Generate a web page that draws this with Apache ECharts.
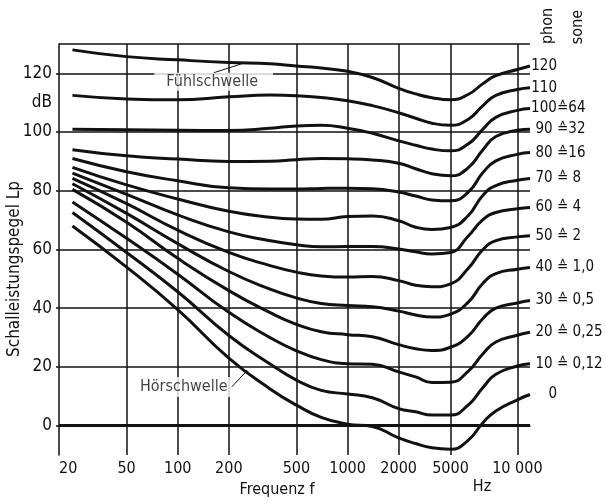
<!DOCTYPE html>
<html>
<head>
<meta charset="utf-8">
<script src="https://cdn.jsdelivr.net/npm/echarts@6/dist/echarts.min.js"></script>
<style>
  html, body { margin: 0; padding: 0; background: #fff; }
  #main { width: 605px; height: 502px; }
</style>
</head>
<body>
<div id="main"></div>
<script>
// Kurven gleicher Lautstärke (Schalleistungspegel über Frequenz)
const FONT = '"DejaVu Sans Condensed", "Liberation Sans Narrow", sans-serif';
const INK = '#111';

// x-Achse: Frequenz in Hz
const tickHz = [20, 50, 100, 200, 500, 1000, 2000, 5000, 10000];
const tickLabels = ['20', '50', '100', '200', '500', '1000', '2000', '5000', '10 000'];
// y-Achse: dB
const dbTicks = [0, 20, 40, 60, 80, 100, 120];
const dbLabels = [0, 20, 40, 60, 80, 100, 110, 120];   // 110 -> "dB"

// Stützstellen der Kurven
const freqs = [24, 50, 100, 200, 350, 500, 700, 1000, 1400, 2000, 2700, 3600, 5000, 6000, 7000, 8000, 10000, 11400];

const phon120 = [128, 125.7, 124.6, 123.7, 123.3, 122.5, 121.8, 120.7, 118.6, 114.9, 113, 111.7, 111, 112.8, 116.5, 119.2, 121.3, 122.5];
const phon110 = [112.5, 111.3, 111, 112, 112.6, 112.4, 111.8, 110.7, 109, 106.6, 104.7, 103, 102.3, 104.3, 109, 112.5, 114.5, 115.1];
const phon100 = [101, 100.8, 100.6, 100.5, 101.3, 102.1, 102.3, 101.3, 99.6, 97, 95.5, 94.2, 93.6, 95.9, 101, 105, 107.4, 108];
const phon90  = [94, 91.9, 90.8, 90, 90.1, 90.6, 91, 90.9, 90.5, 89.4, 87.5, 85.8, 85.1, 87.8, 94, 98.5, 100.6, 101];
const phon80  = [91, 86.5, 83.4, 81, 80.6, 80.6, 80.8, 80.9, 80.7, 79.6, 78.2, 76.9, 76.6, 79.5, 86.2, 90.2, 92.4, 93];
const phon70  = [88, 82, 77.2, 73, 71, 70.4, 70.3, 71.2, 71.4, 69.8, 67.6, 66.8, 67.5, 71.5, 78.5, 81.8, 83.6, 84.2];
const phon60  = [86, 78.8, 71.8, 66, 63, 61.6, 60.9, 61, 61, 60.2, 59.2, 58.5, 59, 64.5, 70.2, 72.6, 73.9, 74.3];
const phon50  = [84.2, 75.6, 66.6, 59, 54.5, 52.3, 51, 50.6, 50.8, 49.4, 47.8, 47.3, 48.3, 53.5, 60, 63, 64.3, 64.7];
const phon40  = [82.4, 72.3, 62, 52.5, 46.5, 43.5, 41.6, 40.9, 40.5, 39, 37.7, 37, 38, 42, 48.5, 51.8, 53.3, 53.9];
const phon30  = [80.5, 69.3, 57, 46, 38.5, 34.5, 32, 31, 30.3, 27.6, 26.2, 25.6, 26.7, 30.5, 36.5, 40, 41.8, 42.6];
const phon20  = [76.2, 63.8, 51.6, 38.6, 30, 25.5, 22.5, 21.1, 20.9, 18.3, 16.6, 14.7, 14.8, 18.5, 24.5, 28.5, 30.8, 31.8];
const phon10  = [72.6, 59, 45.6, 30.7, 21, 15.5, 12, 10.8, 9.5, 5.8, 4.7, 3.6, 3.6, 7, 13, 17.5, 20.3, 21.1];
const phon0   = [68, 54, 39.5, 23, 12.5, 7, 2.8, 0.5, -0.3, -4.2, -6.1, -7.5, -8, -5, 1, 5, 8.8, 10.6];

const phonLevels = [120, 110, 100, 90, 80, 70, 60, 50, 40, 30, 20, 10, 0];
const soneLabels = ['', '', '64', '32', '16', ' 8', ' 4', ' 2', ' 1,0', ' 0,5', ' 0,25', ' 0,12', ''];
const curves = [phon120, phon110, phon100, phon90, phon80, phon70, phon60, phon50, phon40, phon30, phon20, phon10, phon0];

// Anmerkungen an den Grenzkurven
const noteText = ['Fühlschwelle', 'Hörschwelle'];
const noteHz = [248, 255];
const noteDb = [123.6, 18.6];

// die Vorlage zeichnet ihre 5000-Hz-Linie dort, wo logarithmisch etwa 4 kHz läge
const tickPos = tickHz.map(f => Math.log10(f));
tickPos[7] = Math.log10(4040);

function pos(f) {
    let i = 0;
    while (i < tickHz.length - 2 && f > tickHz[i + 1]) i++;
    const a = Math.log10(tickHz[i]), b = Math.log10(tickHz[i + 1]);
    return tickPos[i] + (Math.log10(f) - a) / (b - a) * (tickPos[i + 1] - tickPos[i]);
}

const xMin = pos(20);
const xMax = pos(11400);

const gridLines = [];
tickPos.slice(1).forEach(p => gridLines.push({ xAxis: p, lineStyle: { width: 1.5 } }));
dbTicks.forEach(v => gridLines.push({ yAxis: v, lineStyle: { width: v === 0 ? 3 : 1.5 } }));
gridLines.push({ yAxis: 130, lineStyle: { width: 1.5 } });

const series = [{
    type: 'line',
    data: [],
    silent: true,
    z: 1,
    markLine: {
        silent: true,
        symbol: ['none', 'none'],
        label: { show: false },
        lineStyle: { color: INK, type: 'solid', width: 1.5 },
        data: gridLines
    }
}];

curves.forEach((vals, k) => {
    const phon = phonLevels[k];
    const sone = soneLabels[k];
    series.push({
        type: 'line',
        z: 3,
        smooth: 0.5,
        showSymbol: false,
        silent: true,
        lineStyle: { color: INK, width: 3 },
        data: freqs.map((f, i) => [pos(f), vals[i]]),
        endLabel: {
            show: true,
            distance: 1,
            formatter: () => '{p|' + phon + '}' + (sone ? '{s|≙' + sone + '}' : ''),
            rich: {
                p: { width: 26, align: 'right', fontFamily: FONT, fontSize: 15, color: INK },
                s: { fontFamily: FONT, fontSize: 15, color: INK }
            }
        }
    });
});

const notePad = [[1, 15, 1, 12], [2, 4, 2, 4]];
const noteShift = [[-31, 19], [-63, 16]];
series.push({
    type: 'scatter',
    z: 6,
    silent: true,
    symbolSize: 2,
    itemStyle: { color: INK },
    data: noteText.map((t, i) => ({ name: t, value: [pos(noteHz[i]), noteDb[i]],
        label: { padding: notePad[i] } })),
    label: {
        show: true,
        position: 'inside',
        formatter: '{b}',
        fontFamily: FONT,
        fontSize: 16,
        color: INK,
        backgroundColor: '#fff'
    },
    labelLayout: p => ({ dx: noteShift[p.dataIndex][0], dy: noteShift[p.dataIndex][1] }),
    labelLine: { show: true, lineStyle: { color: INK, width: 1 } }
});

const chart = echarts.init(document.getElementById('main'));
chart.setOption({
    animation: false,
    backgroundColor: '#fff',
    grid: { left: 59, right: 75, top: 44, bottom: 47 },
    xAxis: {
        type: 'value',
        min: xMin,
        max: xMax,
        splitLine: { show: false },
        axisLine: { lineStyle: { color: INK, width: 1.5 } },
        axisTick: { show: false },
        axisLabel: {
            customValues: tickPos,
            alignMinLabel: 'left',
            margin: 6,
            fontFamily: FONT,
            fontSize: 16,
            color: INK,
            formatter: v => {
                let j = 0;
                tickPos.forEach((p, i) => { if (Math.abs(p - v) < Math.abs(tickPos[j] - v)) j = i; });
                return tickLabels[j];
            }
        }
    },
    yAxis: {
        type: 'value',
        min: -10,
        max: 130,
        splitLine: { show: false },
        axisLine: { show: true, lineStyle: { color: INK, width: 1.5 } },
        axisTick: { show: true, customValues: dbTicks, length: 3, lineStyle: { color: INK, width: 1.5 } },
        axisLabel: {
            customValues: dbLabels,
            margin: 7,
            fontFamily: FONT,
            fontSize: 17,
            color: INK,
            formatter: v => (v === 110 ? 'dB' : String(v))
        }
    },
    graphic: [
        { type: 'text', x: 15, y: 269, rotation: Math.PI / 2,
          style: { text: 'Schalleistungspegel Lp', fill: INK, font: '17px ' + FONT, textAlign: 'center', textVerticalAlign: 'middle' } },
        { type: 'text', x: 277, y: 490,
          style: { text: 'Frequenz f', fill: INK, font: '16px ' + FONT, textAlign: 'center', textVerticalAlign: 'middle' } },
        { type: 'text', x: 482, y: 487,
          style: { text: 'Hz', fill: INK, font: '16px ' + FONT, textAlign: 'center', textVerticalAlign: 'middle' } },
        { type: 'text', x: 548, y: 26, rotation: Math.PI / 2,
          style: { text: 'phon', fill: INK, font: '16px ' + FONT, textAlign: 'center', textVerticalAlign: 'middle' } },
        { type: 'text', x: 578, y: 27, rotation: Math.PI / 2,
          style: { text: 'sone', fill: INK, font: '16px ' + FONT, textAlign: 'center', textVerticalAlign: 'middle' } }
    ],
    series: series
});
</script>
</body>
</html>
